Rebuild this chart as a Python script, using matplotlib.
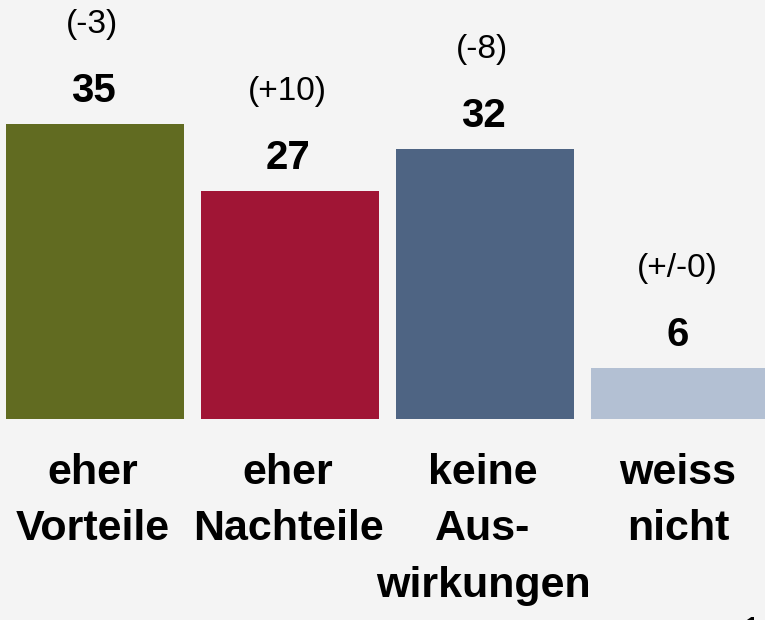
import matplotlib
matplotlib.use("Agg")
import matplotlib.pyplot as plt

categories = ["eher\nVorteile", "eher\nNachteile", "keine\nAus-\nwirkungen", "weiss\nnicht"]
values = [35, 27, 32, 6]
changes = ["(-3)", "(+10)", "(-8)", "(+/-0)"]
colors = ["#616B21", "#A01535", "#4E6483", "#B3C0D3"]

plt.rcParams['font.family'] = ['Liberation Sans', 'DejaVu Sans']
W, H = 765, 620
fig = plt.figure(figsize=(W / 100, H / 100), dpi=100, facecolor="#F4F4F4")
base_px = 419
ax = fig.add_axes([0, (H - base_px) / H, 1, base_px / H])
ax.set_facecolor("#F4F4F4")
ax.axis("off")

step = 195.0
c0 = 95.0
ax.set_xlim((0 - c0) / step, (W - c0) / step)
ppu = 295 / 35.0
ax.set_ylim(0, base_px / ppu)

x = list(range(len(values)))
ax.bar(x, values, width=178 / step, color=colors, clip_on=True)

for xi, v, ch in zip(x, values, changes):
    ax.annotate(str(v), (xi, v), xytext=(-2, 33), textcoords="offset pixels",
                ha="center", va="center", fontsize=29, fontweight="bold", color="black")
    ax.annotate(ch, (xi, v), xytext=(-3, 100), textcoords="offset pixels",
                ha="center", va="center", fontsize=24, color="black",
                annotation_clip=False)
    ax.annotate(categories[xi], (xi, 0), xytext=(-2, -34), textcoords="offset pixels",
                ha="center", va="top", fontsize=31, fontweight="bold", color="black",
                linespacing=1.53, annotation_clip=False)

fig.text(686 / W, 1 - 640 / H, "n = 1", ha="left", va="baseline", fontsize=24, color="black")

fig.savefig("out.png", dpi=100, facecolor=fig.get_facecolor())
